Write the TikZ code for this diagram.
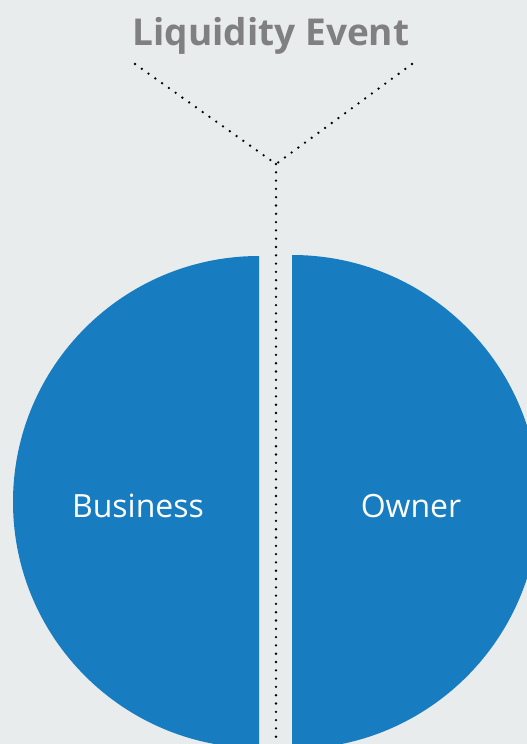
\documentclass[tikz,border=0pt]{standalone}
\usepackage{fontspec}
\setmainfont{Open Sans}
\definecolor{bg}{HTML}{E8ECED}
\definecolor{blu}{HTML}{177CC0}
\definecolor{ttl}{HTML}{808080}
\begin{document}
\begin{tikzpicture}[x=1pt,y=-1pt,
  half/.style={fill=blu,draw=none},
  lbl/.style={text=white,font=\fontsize{32}{36}\selectfont,anchor=base},
  dotline/.style={line width=2.6pt,dash pattern=on 0pt off 8.3pt,line cap=round,black}]
\fill[bg] (0,0) rectangle (527,744);
\useasboundingbox (0,0) rectangle (527,744);
\begin{scope}
\clip (0,0) rectangle (527,744);
\fill[half] (259,256) arc[start angle=270,end angle=90,radius=246] -- cycle;
\fill[half] (292,255) arc[start angle=-90,end angle=90,radius=247] -- cycle;
\end{scope}
\node[lbl] (b) at (138,517) {Business};
\node[lbl] (o) at (411,517) {Owner};
\node[text=ttl,font=\bfseries\fontsize{37}{40}\selectfont,anchor=base] (t) at (271,45) {Liquidity Event};
\coordinate (l) at (135,64);
\coordinate (r) at (412,64);
\coordinate (v) at (276,164);
\coordinate (e) at (276,744);
\draw[dotline] (l) -- (v);
\draw[dotline] (r) -- (v);
\draw[dotline] (v) -- (e);
\end{tikzpicture}
\end{document}
